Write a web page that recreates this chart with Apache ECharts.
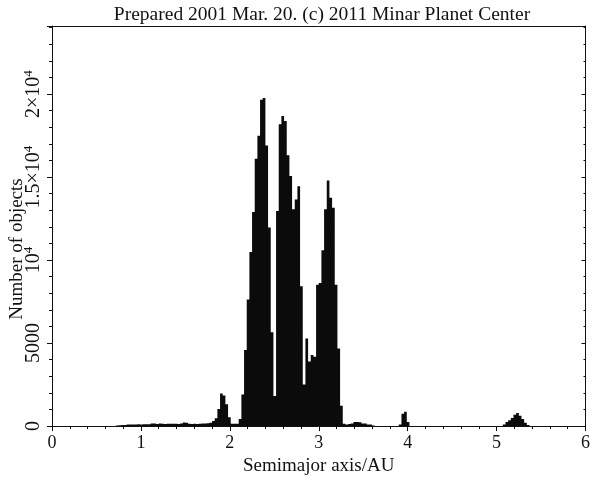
<!DOCTYPE html>
<html><head><meta charset="utf-8">
<script src="https://cdn.jsdelivr.net/npm/echarts@6/dist/echarts.min.js"></script>
<style>html,body{margin:0;padding:0;background:#fff}#c{width:593px;height:481px}</style>
</head><body><div id="c"></div>
<script>
// Histogram of asteroid semimajor axes (bin width in AU, first bin start in AU)
const binWidth = 0.03;
const firstBinStart = 0.72;
const counts = [
  30, 50, 60, 70, 90, 95, 100, 100, 105, 100,
  110, 110, 105, 150, 160, 130, 150, 140, 130, 140,
  135, 140, 140, 130, 150, 210, 200, 140, 130, 140,
  130, 140, 150, 150, 170, 200, 300, 480, 1030, 1970,
  1850, 1320, 530, 140, 140, 140, 430, 1910, 4580, 7630,
  10490, 12900, 16110, 17490, 19660, 19760, 16900, 11970, 5660, 1810,
  12960, 18180, 18680, 18380, 16310, 15070, 13060, 13650, 14440, 8420,
  2500, 5270, 3890, 4280, 4180, 8520, 8620, 10590, 13060, 14790,
  13750, 13150, 8520, 4670, 1220, 140, 100, 130, 160, 240,
  250, 230, 160, 150, 100, 90, 40, 0, 0, 0,
  0, 0, 0, 0, 0, 0, 100, 750, 870, 240,
  0, 0, 0, 0, 0, 0, 0, 0, 0, 0,
  0, 0, 0, 0, 0, 0, 0, 0, 0, 0,
  0, 0, 0, 0, 0, 0, 0, 0, 0, 0,
  0, 0, 0, 0, 0, 100, 240, 350, 490, 690,
  790, 630, 430, 200, 60
];
const titleText = 'Prepared 2001 Mar. 20. (c) 2011 Minar Planet Center';
const xAxisTitle = 'Semimajor axis/AU';
const yAxisTitle = 'Number of objects';
const yTickLabels = {
  0: '{b|0}',
  5000: '{b|5000}',
  10000: '{b|10}{s|4}',
  15000: '{b|1.5×10}{s|4}',
  20000: '{b|2×10}{s|4}'
};

const FONT = 'Liberation Serif';
const INK = '#111';

const histData = counts.map((c, i) => {
  const x0 = +(firstBinStart + i * binWidth).toFixed(4);
  return [x0, +(x0 + binWidth).toFixed(4), c];
});

const chart = echarts.init(document.getElementById('c'), null, {renderer: 'canvas'});
chart.setOption({
  animation: false,
  backgroundColor: '#fff',
  title: {
    text: titleText, left: 317, top: 0, textAlign: 'center',
    textStyle: {fontFamily: FONT, fontSize: 19.5, fontWeight: 'normal', color: INK}
  },
  grid: {left: 52, right: 4, top: 26, bottom: 47, containLabel: false},
  xAxis: [{
    type: 'value', min: 0, max: 6, interval: 1, position: 'bottom',
    axisLine: {show: true, lineStyle: {color: '#111', width: 1}},
    axisTick: {show: true, inside: false, length: 5, lineStyle: {color: '#111'}},
    minorTick: {show: true, splitNumber: 5, length: 3, lineStyle: {color: '#111'}},
    splitLine: {show: false},
    axisLabel: {fontFamily: FONT, fontSize: 18, color: INK, margin: 8},
    name: xAxisTitle, nameLocation: 'middle', nameGap: 26,
    nameTextStyle: {fontFamily: FONT, fontSize: 19, color: INK}
  }, {
    type: 'value', min: 0, max: 6, interval: 1, position: 'top',
    axisLine: {show: true, onZero: false, lineStyle: {color: '#111', width: 1}},
    axisTick: {show: false}, axisLabel: {show: false}, splitLine: {show: false}
  }],
  yAxis: [{
    type: 'value', min: 0, max: 24100, interval: 5000, position: 'left',
    axisLine: {show: true, onZero: false, lineStyle: {color: '#111', width: 1}},
    axisTick: {show: true, inside: false, length: 5, lineStyle: {color: '#111'}},
    minorTick: {show: true, splitNumber: 5, length: 3, lineStyle: {color: '#111'}},
    splitLine: {show: false},
    axisLabel: {
      rotate: 90, margin: 8, color: INK,
      formatter: v => yTickLabels[v] || '',
      rich: {
        b: {fontFamily: FONT, fontSize: 20, color: INK, verticalAlign: 'bottom', lineHeight: 22},
        s: {fontFamily: FONT, fontSize: 13, color: INK, verticalAlign: 'top', lineHeight: 22}
      }
    }
  }, {
    type: 'value', min: 0, max: 24100, interval: 5000, position: 'right',
    axisLine: {show: true, onZero: false, lineStyle: {color: '#111', width: 1}},
    axisTick: {show: true, inside: true, length: 4, lineStyle: {color: '#111'}},
    minorTick: {show: true, splitNumber: 5, length: 2, lineStyle: {color: '#111'}},
    axisLabel: {show: false}, splitLine: {show: false}
  }],
  graphic: [{
    type: 'text', x: 17, y: 249, rotation: Math.PI / 2,
    style: {text: yAxisTitle, fontFamily: FONT, fontSize: 19, fill: INK, align: 'center', verticalAlign: 'middle'}
  }],
  series: [{
    type: 'custom', xAxisIndex: 0, yAxisIndex: 0,
    encode: {x: [0, 1], y: 2},
    data: histData,
    renderItem: function (params, api) {
      // Draw the whole histogram as one step polygon (no seams between bars)
      if (params.dataIndex !== 0) return null;
      const pts = [api.coord([histData[0][0], 0])];
      for (const d of histData) {
        pts.push(api.coord([d[0], d[2]]));
        pts.push(api.coord([d[1], d[2]]));
      }
      pts.push(api.coord([histData[histData.length - 1][1], 0]));
      return {
        type: 'polygon',
        shape: {points: pts},
        style: {fill: '#0b0b0b', stroke: null}
      };
    }
  }]
});
</script>
</body></html>
